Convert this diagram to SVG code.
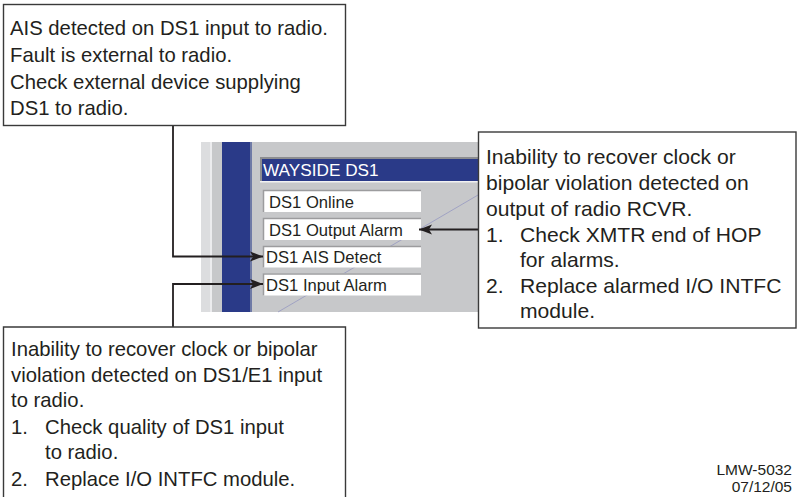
<svg xmlns="http://www.w3.org/2000/svg" width="798" height="497" viewBox="0 0 798 497">
<defs>
<style>
.note{font-family:"Liberation Sans",Arial,sans-serif;font-size:20.3px;fill:#231f20}
.noteR{font-family:"Liberation Sans",Arial,sans-serif;font-size:21.1px;fill:#231f20}
.scr{font-family:"Liberation Sans",Arial,sans-serif;font-size:16.6px;fill:#231f20}
.ttl{font-family:"Liberation Sans",Arial,sans-serif;font-size:17.2px;fill:#ffffff}
.foot{font-family:"Liberation Sans",Arial,sans-serif;font-size:15.5px;fill:#231f20;text-anchor:end}
.box{fill:#ffffff;stroke:#3a3a3a;stroke-width:1.4}
.conn{fill:none;stroke:#231f20;stroke-width:1.8}
.field{fill:#ffffff}
.bevel{fill:none;stroke:#9c9c9e;stroke-width:1.5}
</style>
<marker id="ah" markerUnits="userSpaceOnUse" markerWidth="14" markerHeight="12" viewBox="0 0 14 12" refX="13" refY="6" orient="auto">
<path d="M0,1 L13,6 L0,11 L3,6 Z" fill="#231f20"/>
</marker>
</defs>
<rect width="798" height="497" fill="#ffffff"/>

<g id="screen">
<rect x="201" y="142" width="277" height="170" fill="#dcdddf"/>
<rect x="210" y="142" width="2" height="170" fill="#ececee"/>
<rect x="212" y="142" width="266" height="170" fill="#c7c8ca"/>
<rect x="222" y="142" width="28" height="170" fill="#2a3a88"/>
<rect x="250" y="142" width="2" height="170" fill="#6f7aa6"/>
<line x1="278" y1="312" x2="478" y2="195" stroke="#8f92c0" stroke-width="0.7"/>
<rect x="260" y="157" width="218" height="25" fill="#8c8d90"/>
<rect x="262" y="159" width="216" height="22" fill="#2a3a88"/>
<rect x="260" y="181" width="218" height="1.5" fill="#f2f2f2"/>
<text class="ttl" x="263" y="176">WAYSIDE DS1</text>
<g id="f-online">
<rect class="field" x="263" y="190" width="158" height="22"/>
<path class="bevel" d="M263.5,212 V190.5 H421"/>
<text class="scr" x="269" y="207.5">DS1 Online</text>
</g>
<g id="f-output">
<rect class="field" x="263" y="218" width="158" height="22"/>
<path class="bevel" d="M263.5,240 V218.5 H421"/>
<text class="scr" x="269" y="235.5">DS1 Output Alarm</text>
</g>
<g id="f-ais">
<rect class="field" x="263" y="246" width="158" height="21.5"/>
<path class="bevel" d="M263.5,267.5 V246.5 H421"/>
<text class="scr" x="266" y="263">DS1 AIS Detect</text>
</g>
<g id="f-input">
<rect class="field" x="263" y="273.5" width="158" height="22"/>
<path class="bevel" d="M263.5,295.5 V274 H421"/>
<text class="scr" x="266" y="290.5">DS1 Input Alarm</text>
</g>
</g>

<g id="connectors">
<path class="conn" d="M173,125 V256.5 H263" marker-end="url(#ah)"/>
<path class="conn" d="M173,327 V284 H263" marker-end="url(#ah)"/>
<path class="conn" d="M478,229.5 H419" marker-end="url(#ah)"/>
</g>

<g id="note-ais">
<rect class="box" x="3.5" y="4.5" width="342" height="121"/>
<text class="note" x="10" y="35">AIS detected on DS1 input to radio.</text>
<text class="note" x="10" y="62">Fault is external to radio.</text>
<text class="note" x="10" y="88.5">Check external device supplying</text>
<text class="note" x="10" y="115">DS1 to radio.</text>
</g>

<g id="note-output">
<rect class="box" x="478.5" y="132" width="317.5" height="196"/>
<text class="noteR" x="486" y="164">Inability to recover clock or</text>
<text class="noteR" x="486" y="190">bipolar violation detected on</text>
<text class="noteR" x="486" y="215.5">output of radio RCVR.</text>
<text class="noteR" x="486" y="242">1.</text>
<text class="noteR" x="520" y="242">Check XMTR end of HOP</text>
<text class="noteR" x="520" y="267">for alarms.</text>
<text class="noteR" x="486" y="293">2.</text>
<text class="noteR" x="520" y="293">Replace alarmed I/O INTFC</text>
<text class="noteR" x="520" y="318">module.</text>
</g>

<g id="note-input">
<path class="box" d="M3.5,498 V327 H345.5 V498"/>
<text class="note" x="11" y="356">Inability to recover clock or bipolar</text>
<text class="note" x="11" y="382">violation detected on DS1/E1 input</text>
<text class="note" x="11" y="407">to radio.</text>
<text class="note" x="11" y="434">1.</text>
<text class="note" x="45" y="434">Check quality of DS1 input</text>
<text class="note" x="45" y="459">to radio.</text>
<text class="note" x="11" y="486">2.</text>
<text class="note" x="45" y="486">Replace I/O INTFC module.</text>
</g>

<g id="footer">
<text class="foot" x="792" y="475">LMW-5032</text>
<text class="foot" x="792" y="492">07/12/05</text>
</g>
</svg>
